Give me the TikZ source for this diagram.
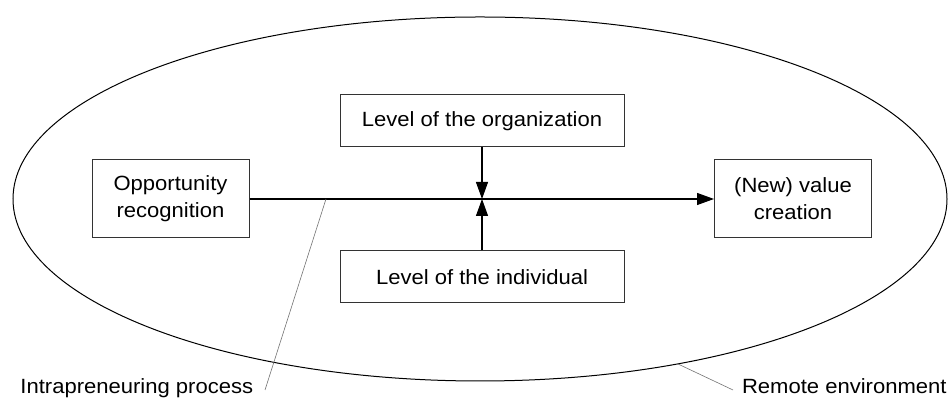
\documentclass[tikz,border=0pt]{standalone}
\usepackage{fontspec}
\setmainfont{Liberation Sans}[FakeStretch=1.07]
\usetikzlibrary{arrows.meta}
\begin{document}
\begin{tikzpicture}[x=0.5pt,y=-0.5pt,
  every node/.style={font=\fontsize{10.3}{13.5}\selectfont},
  box/.style={draw=black!80,line width=0.5pt,align=center,inner sep=0pt},
  conn/.style={line width=0.55pt,-{Triangle[length=8.5pt,width=6pt]}},
  leader/.style={draw=black!55,line width=0.3pt}]
\useasboundingbox (0,0) rectangle (948,399);
\draw[line width=0.5pt] (480,199) ellipse [x radius=233.5pt, y radius=91pt];
\node[box,minimum width=78.5pt,minimum height=39pt] (opp) at (170.5,199) {Opportunity\\recognition};
\node[box,minimum width=78.5pt,minimum height=39pt] (new) at (793,199) {(New) value\\creation};
\node[box,minimum width=142pt,minimum height=26pt] (org) at (482,121) {Level of the organization};
\node[box,minimum width=142pt,minimum height=26pt] (ind) at (482,277) {Level of the individual};
\coordinate (mid) at (org.south |- opp.east);
\draw[conn] (opp.east) -- (new.west);
\draw[conn] (org.south) -- (mid);
\draw[conn] (ind.north) -- (mid);
\node[anchor=base west,inner sep=0pt] (ipl) at (20,394) {Intrapreneuring process};
\node[anchor=base east,inner sep=0pt] (rel) at (947,394) {Remote environment};
\coordinate (ipa) at (326,199);
\coordinate (ipb) at (265,390);
\coordinate (rea) at (678,364);
\coordinate (reb) at (733,390);
\draw[leader] (ipa) -- (ipb);
\draw[leader] (rea) -- (reb);
\end{tikzpicture}
\end{document}
